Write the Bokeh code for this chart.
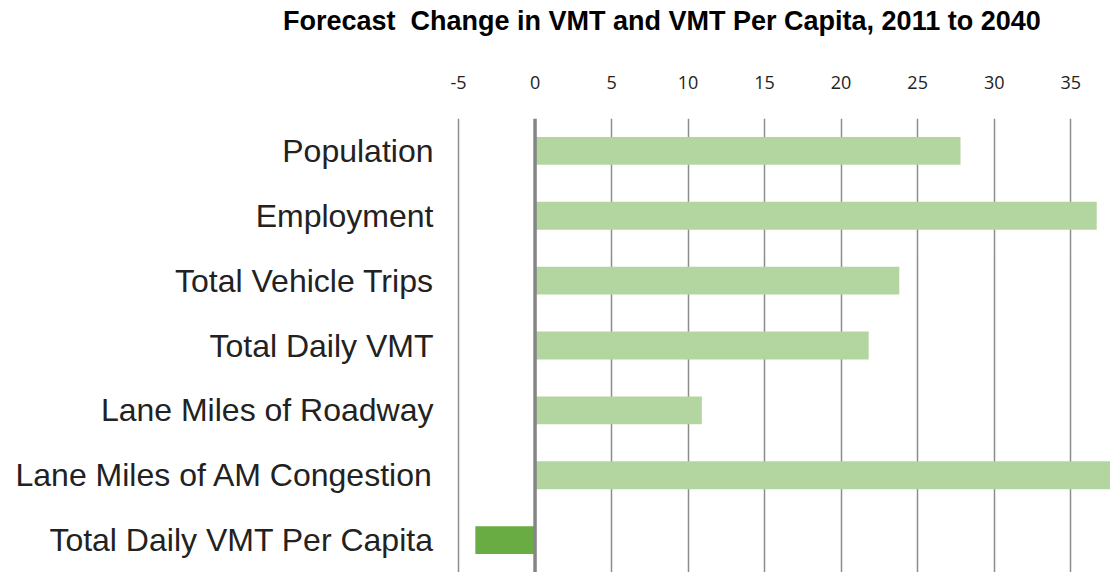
from bokeh.plotting import figure
from bokeh.models import FactorRange, Range1d, FixedTicker, Span, ColumnDataSource, Div
from bokeh.layouts import column
from bokeh.embed import file_html
from bokeh.resources import INLINE

categories = [
    "Population",
    "Employment",
    "Total Vehicle Trips",
    "Total Daily VMT",
    "Lane Miles of Roadway",
    "Lane Miles of AM Congestion",
    "Total Daily VMT Per Capita",
]
values = [27.8, 36.7, 23.8, 21.8, 10.9, 38.5, -3.9]
tick_values = [-5, 0, 5, 10, 15, 20, 25, 30, 35]
title_text = "Forecast  Change in VMT and VMT Per Capita, 2011 to 2040"

LIGHT = "#b3d6a0"
DARK = "#68ac43"
colors = [DARK if v < 0 else LIGHT for v in values]

src = ColumnDataSource(dict(cat=categories, val=values, color=colors))

TITLE_H = 40
title = Div(text=title_text, width=1110, height=TITLE_H, margin=0,
            styles={"font-family": "Liberation Sans", "font-size": "27px",
                    "font-weight": "bold", "color": "#000000",
                    "white-space": "pre", "padding-left": "283px",
                    "padding-top": "6px", "line-height": "31px"})

p = figure(
    width=1110, height=572 - TITLE_H,
    y_range=FactorRange(factors=list(reversed(categories)), range_padding=0),
    x_range=Range1d(-5.85, 37.6),
    x_axis_location="above",
    output_backend="svg", toolbar_location=None,
    min_border_left=445, min_border_right=0, min_border_bottom=0,
    min_border_top=118 - TITLE_H,
)

p.hbar(y="cat", right="val", left=0, height=0.43, fill_color="color",
       line_color=None, source=src)

p.add_layout(Span(location=0, dimension="height", line_color="#858585", line_width=3.5))

p.outline_line_color = None
p.ygrid.grid_line_color = None
p.xgrid.ticker = FixedTicker(ticks=[t for t in tick_values if t != 0])
p.xgrid.grid_line_color = "#8c8c8c"
p.xgrid.grid_line_width = 1.5

xa = p.xaxis[0]
xa.ticker = FixedTicker(ticks=tick_values)
xa.major_label_overrides = {t: str(t) for t in tick_values}
xa.axis_line_color = None
xa.major_tick_line_color = None
xa.minor_tick_line_color = None
xa.major_tick_out = 0
xa.major_tick_in = 0
xa.major_label_standoff = 30
xa.major_label_text_font = "Open Sans"
xa.major_label_text_font_size = "18px"
xa.major_label_text_color = "#222222"

ya = p.yaxis[0]
ya.axis_line_color = None
ya.major_tick_line_color = None
ya.minor_tick_line_color = None
ya.major_tick_out = 0
ya.major_tick_in = 0
ya.major_label_standoff = 12
ya.major_label_text_font = "Liberation Sans"
ya.major_label_text_font_size = "32px"
ya.major_label_text_color = "#222222"

layout = column(title, p, spacing=0)
open("out.html", "w").write(file_html(layout, INLINE))
